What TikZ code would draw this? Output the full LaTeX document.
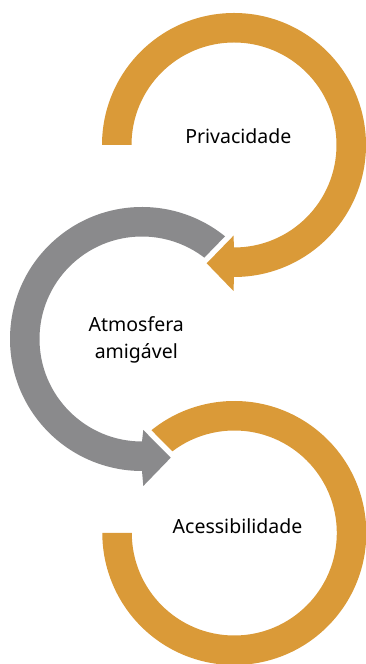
\documentclass[tikz,border=0pt]{standalone}
\usepackage{fontspec}
\setmainfont{Noto Sans}
\usepackage{tikz}
\usetikzlibrary{calc}
\definecolor{ouro}{RGB}{218,154,56}
\definecolor{cinza}{RGB}{138,138,140}

\begin{document}
\begin{tikzpicture}[x=1pt,y=1pt,
  ring/.style={preaction={draw=white,line width=11pt,line join=round}},
  lbl/.style={font=\fontsize{19.5}{26.7}\selectfont,align=center,inner sep=0pt}]
  \useasboundingbox (0,0) rectangle (366,664);
  \coordinate (c1) at (234,519);
  \coordinate (c2) at (142,325);
  \coordinate (c3) at (234.3,131);
  % lower ring: open at the left, no head
  \fill[ouro] ($(c3)+(140:132)$) arc[start angle=140,end angle=-180,radius=132]
    -- ($(c3)+(180:102.5)$) arc[start angle=-180,end angle=140,radius=102.5] -- cycle;
  % middle ring, head at the bottom pointing right
  \fill[cinza,ring] ($(c2)+(42:132)$) arc[start angle=42,end angle=270,radius=132]
    -- ($(c2)+(1.3,-147)$) -- ($(c2)+(28.7,-118.7)$) -- ($(c2)+(1.3,-91)$)
    -- ($(c2)+(270:102.5)$) arc[start angle=270,end angle=42,radius=102.5] -- cycle;
  % upper ring, head at the bottom pointing left
  \fill[ouro,ring] ($(c1)+(180:132)$) arc[start angle=180,end angle=-90,radius=132]
    -- ($(c1)+(-0.5,-146)$) -- ($(c1)+(-27.3,-118.3)$) -- ($(c1)+(-0.5,-90.7)$)
    -- ($(c1)+(-90:102.5)$) arc[start angle=-90,end angle=180,radius=102.5] -- cycle;
  % labels
  \node[lbl,anchor=base] (priv) at (238.3,520) {Privacidade};
  \node[lbl] (atmo) at (136.3,324) {Atmosfera\\amigável};
  \node[lbl,anchor=base] (acess) at (237.5,130.7) {Acessibilidade};
\end{tikzpicture}
\end{document}
